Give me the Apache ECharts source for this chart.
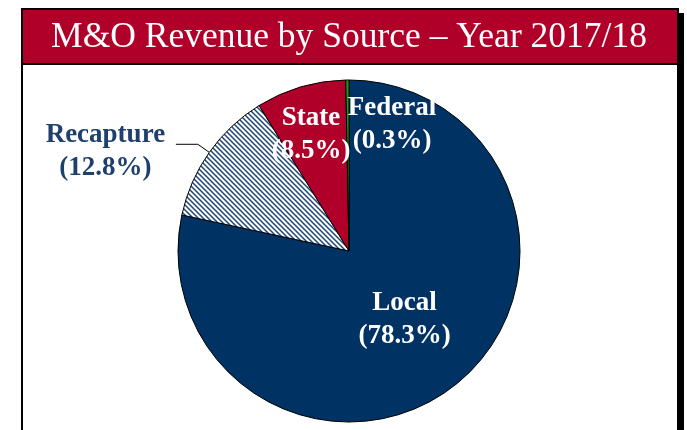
<!DOCTYPE html>
<html>
<head>
<meta charset="utf-8">
<script src="https://cdn.jsdelivr.net/npm/echarts@6/dist/echarts.min.js"></script>
<style>
html,body{margin:0;padding:0;background:#fff;}
#chart{width:687px;height:430px;}
</style>
</head>
<body>
<div id="chart"></div>
<script>
var titleText = 'M&O Revenue by Source \u2013 Year 2017/18';
var categories = ['Local', 'Recapture', 'State', 'Federal'];
var values = [78.3, 12.8, 8.5, 0.3];
var colors = ['#003263', 'hatch', '#b0002a', '#1a9a1a'];

function hatchPattern() {
  var c = document.createElement('canvas');
  c.width = 5; c.height = 5;
  var g = c.getContext('2d');
  g.fillStyle = '#ffffff';
  g.fillRect(0, 0, 5, 5);
  g.strokeStyle = '#1d4577';
  g.lineWidth = 1.5;
  g.beginPath();
  g.moveTo(-1, -1); g.lineTo(6, 6);
  g.moveTo(-1, 4); g.lineTo(1, 6);
  g.moveTo(4, -1); g.lineTo(6, 1);
  g.stroke();
  return {image: c, repeat: 'repeat'};
}

var serif = '"Liberation Serif", "DejaVu Serif", serif';
var labelCfg = {
  0: {position: 'inside', color: '#ffffff', line: false},
  1: {position: 'outside', color: '#1f3f6e', offset: [2, 7], line: true},
  2: {position: 'inside', color: '#ffffff', offset: [-13, -32], line: false},
  3: {position: 'outside', color: '#ffffff', line: false}
};
// label anchor for the Federal label (inside the Local slice, next to its thin sector)
var federalLabelAt = [392, 125];

var data = categories.map(function (name, i) {
  var lc = labelCfg[i];
  var item = {
    name: name,
    value: values[i],
    itemStyle: {color: colors[i] === 'hatch' ? hatchPattern() : colors[i]},
    label: {
      show: true,
      position: lc.position,
      color: lc.color,
      formatter: '{a|' + name + '}\n{a|(' + values[i].toFixed(1) + '%)}',
      rich: {a: {fontFamily: serif, fontWeight: 'bold', fontSize: 27, lineHeight: 33, color: lc.color, width: 135, align: 'center'}}
    },
    labelLine: {show: lc.line, length: 14, length2: 22, lineStyle: {color: '#000', width: 1}}
  };
  if (lc.offset) item.label.offset = lc.offset;
  return item;
});

var chart = echarts.init(document.getElementById('chart'));
chart.setOption({
  animation: false,
  graphic: [
    {type: 'rect', z: 0, shape: {x: 22, y: 9, width: 656, height: 440}, style: {fill: '#ffffff', stroke: '#000', lineWidth: 2}},
    {type: 'rect', z: 0, shape: {x: 678, y: 13, width: 6, height: 430}, style: {fill: '#000'}},
    {type: 'rect', z: 0, shape: {x: 22, y: 9, width: 656, height: 55}, style: {fill: '#b0002a', stroke: '#000', lineWidth: 2}},
    {type: 'text', z: 1, style: {x: 349, y: 38, text: titleText, textAlign: 'center', textVerticalAlign: 'middle', fill: '#ffffff', font: 'normal 35.5px ' + serif}}
  ],
  series: [{
    type: 'pie',
    center: [349, 251],
    radius: [0, 171],
    startAngle: 90,
    clockwise: true,
    avoidLabelOverlap: false,
    itemStyle: {borderColor: '#000', borderWidth: 1},
    emphasis: {disabled: true},
    labelLayout: function (params) {
      if (params.dataIndex === 3) {
        return {x: federalLabelAt[0], y: federalLabelAt[1], align: 'center', verticalAlign: 'middle'};
      }
      return {};
    },
    data: data
  }]
});
</script>
</body>
</html>
